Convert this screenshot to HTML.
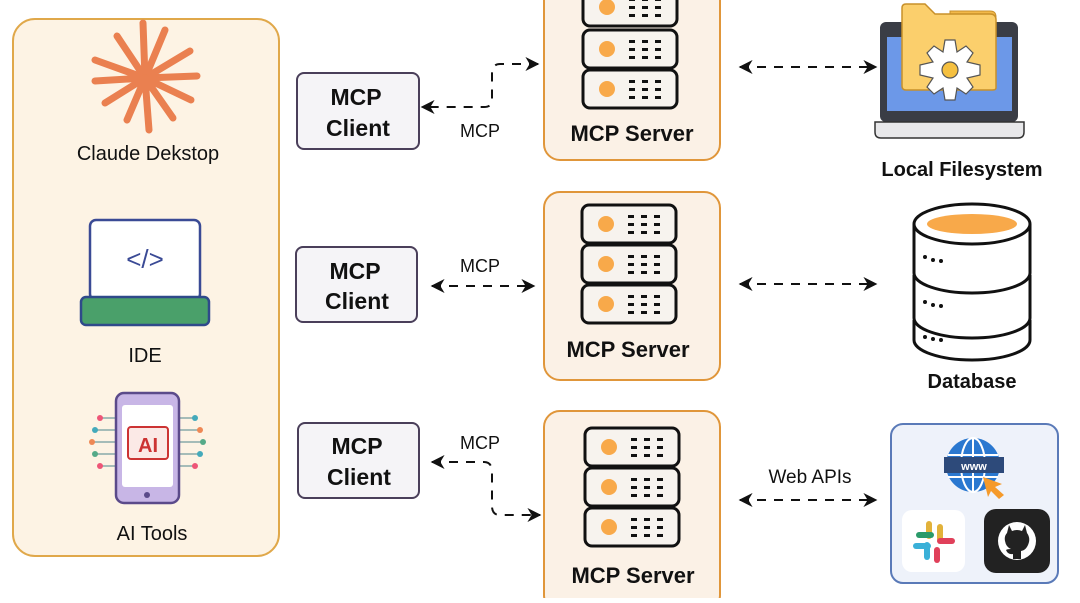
<!DOCTYPE html>
<html><head><meta charset="utf-8"><style>
body{margin:0;width:1080px;height:598px;background:#fff;overflow:hidden;font-family:"Liberation Sans",sans-serif;}
</style></head><body>
<svg width="1080" height="598" viewBox="0 0 1080 598" xmlns="http://www.w3.org/2000/svg" font-family="Liberation Sans, sans-serif">
<defs>
<marker id="ah" viewBox="0 0 10 10" refX="9" refY="5" markerWidth="7" markerHeight="7" orient="auto-start-reverse"><path d="M0,0 L10,5 L0,10 L3,5 z" fill="#111"/></marker>
<g id="unit"><rect x="0" y="0" width="94" height="38" rx="7" fill="#f7f3ee" stroke="#111" stroke-width="3"/><circle cx="24" cy="19" r="8" fill="#f8a94a"/>
<g fill="#111"><rect x="46" y="10" width="6" height="3"/><rect x="59" y="10" width="6" height="3"/><rect x="72" y="10" width="6" height="3"/><rect x="46" y="18" width="6" height="3"/><rect x="59" y="18" width="6" height="3"/><rect x="72" y="18" width="6" height="3"/><rect x="46" y="26" width="6" height="3"/><rect x="59" y="26" width="6" height="3"/><rect x="72" y="26" width="6" height="3"/></g></g>
</defs>
<rect x="13" y="19" width="266" height="537" rx="22" fill="#fdf3e4" stroke="#e0a84a" stroke-width="2"/>
<g stroke="#ea8050" stroke-width="7" stroke-linecap="round" transform="translate(145,78)">
<line x1="0" y1="0" x2="-2" y2="-55"/><line x1="0" y1="0" x2="20" y2="-48"/><line x1="0" y1="0" x2="-28" y2="-42"/><line x1="0" y1="0" x2="45" y2="-27"/><line x1="0" y1="0" x2="-50" y2="-18"/><line x1="0" y1="0" x2="52" y2="-2"/><line x1="0" y1="0" x2="-50" y2="3"/><line x1="0" y1="0" x2="46" y2="22"/><line x1="0" y1="0" x2="-40" y2="25"/><line x1="0" y1="0" x2="28" y2="40"/><line x1="0" y1="0" x2="-18" y2="42"/><line x1="0" y1="0" x2="4" y2="52"/>
</g>
<text x="148" y="160" font-size="20" text-anchor="middle" fill="#111">Claude Dekstop</text>
<rect x="90" y="220" width="110" height="80" rx="6" fill="#fff" stroke="#3a4a95" stroke-width="2.5"/>
<text x="145" y="268" font-size="26" text-anchor="middle" fill="#3a4a95">&lt;/&gt;</text>
<rect x="81" y="297" width="128" height="28" rx="5" fill="#4aa06a" stroke="#2f4a8a" stroke-width="2.5"/>
<text x="145" y="362" font-size="20" text-anchor="middle" fill="#111">IDE</text>
<g stroke-width="1.5" fill="none">
<path d="M116 418 H100 M116 430 H95 M116 442 H92 M116 454 H95 M116 466 H100" stroke="#8aa"/>
<path d="M179 418 H195 M179 430 H200 M179 442 H203 M179 454 H200 M179 466 H195" stroke="#8aa"/>
</g>
<g><circle cx="100" cy="418" r="3" fill="#e57"/><circle cx="95" cy="430" r="3" fill="#4ab"/><circle cx="92" cy="442" r="3" fill="#e85"/><circle cx="95" cy="454" r="3" fill="#5a8"/><circle cx="100" cy="466" r="3" fill="#e57"/>
<circle cx="195" cy="418" r="3" fill="#4ab"/><circle cx="200" cy="430" r="3" fill="#e85"/><circle cx="203" cy="442" r="3" fill="#5a8"/><circle cx="200" cy="454" r="3" fill="#4ab"/><circle cx="195" cy="466" r="3" fill="#e57"/></g>
<rect x="116" y="393" width="63" height="110" rx="8" fill="#c8b6e6" stroke="#5b4a8a" stroke-width="2.5"/>
<rect x="122" y="405" width="51" height="82" rx="3" fill="#fff"/>
<rect x="128" y="427" width="40" height="32" rx="3" fill="#fbe9e6" stroke="#c33" stroke-width="2"/>
<text x="148" y="452" font-size="20" font-weight="bold" text-anchor="middle" fill="#c33">AI</text>
<circle cx="147" cy="495" r="3" fill="#5b4a8a"/>
<text x="152" y="540" font-size="20" text-anchor="middle" fill="#111">AI Tools</text>
<g fill="#f5f4f7" stroke="#4a3f5a" stroke-width="2">
<rect x="297" y="73" width="122" height="76" rx="7"/>
<rect x="296" y="247" width="121" height="75" rx="7"/>
<rect x="298" y="423" width="121" height="75" rx="7"/>
</g>
<g font-size="23" text-anchor="middle" fill="#111" font-weight="bold">
<text x="356" y="105">MCP</text><text x="358" y="136">Client</text>
<text x="355" y="279">MCP</text><text x="357" y="309">Client</text>
<text x="357" y="454">MCP</text><text x="359" y="485">Client</text>
</g>
<g stroke="#111" stroke-width="2" fill="none" stroke-dasharray="9,8">
<path d="M538 64 H500 Q492 64 492 74 V100 Q492 107 484 107 H422" marker-start="url(#ah)" marker-end="url(#ah)"/>
<path d="M432 286 H534" marker-start="url(#ah)" marker-end="url(#ah)"/>
<path d="M432 462 H484 Q492 462 492 472 V506 Q492 515 500 515 H540" marker-start="url(#ah)" marker-end="url(#ah)"/>
</g>
<g font-size="18" fill="#111" text-anchor="middle">
<text x="480" y="137">MCP</text><text x="480" y="272">MCP</text><text x="480" y="449">MCP</text>
</g>
<g fill="#fbf1e6" stroke="#e0963a" stroke-width="2">
<rect x="544" y="-20" width="176" height="180" rx="16"/>
<rect x="544" y="192" width="176" height="188" rx="16"/>
<rect x="544" y="411" width="176" height="200" rx="16"/>
</g>
<use href="#unit" x="583" y="-12"/><use href="#unit" x="583" y="30"/><use href="#unit" x="583" y="70"/>
<use href="#unit" x="582" y="205"/><use href="#unit" x="582" y="245"/><use href="#unit" x="582" y="285"/>
<use href="#unit" x="585" y="428"/><use href="#unit" x="585" y="468"/><use href="#unit" x="585" y="508"/>
<g font-size="22" text-anchor="middle" fill="#111" font-weight="bold">
<text x="632" y="141">MCP Server</text><text x="628" y="357">MCP Server</text><text x="633" y="583">MCP Server</text>
</g>
<g stroke="#111" stroke-width="2" fill="none" stroke-dasharray="9,8">
<path d="M740 67 H876" marker-start="url(#ah)" marker-end="url(#ah)"/>
<path d="M740 284 H876" marker-start="url(#ah)" marker-end="url(#ah)"/>
<path d="M740 500 H876" marker-start="url(#ah)" marker-end="url(#ah)"/>
</g>
<text x="810" y="483" font-size="19" text-anchor="middle" fill="#111">Web APIs</text>
<rect x="880" y="22" width="138" height="100" rx="6" fill="#3a3d45"/>
<rect x="887" y="37" width="125" height="74" fill="#6c98e8"/>
<path d="M875 122 H1024 V132 Q1024 138 1018 138 H881 Q875 138 875 132 Z" fill="#e8e8ea" stroke="#333" stroke-width="1.5"/>
<path d="M950 11 H990 Q996 11 996 17 V85 H950 Z" fill="#f2b94a" stroke="#c8902a" stroke-width="1"/>
<path d="M902 8 Q902 4 906 4 H925 L935 14 H990 Q996 14 996 20 V88 Q996 90 992 90 H906 Q902 90 902 86 Z" fill="#fbcf6c" stroke="#c8902a" stroke-width="1.5"/>
<g transform="translate(950,70)" fill="#fff" stroke="#555" stroke-width="1.2">
<path d="M-5,-30 L5,-30 L7,-18 L16,-24 L23,-17 L17,-8 L30,-5 L30,5 L17,8 L23,17 L16,24 L7,18 L5,30 L-5,30 L-7,18 L-16,24 L-23,17 L-17,8 L-30,5 L-30,-5 L-17,-8 L-23,-17 L-16,-24 L-7,-18 Z"/>
<circle r="8" fill="#f5c040"/>
</g>
<text x="962" y="176" font-size="20" text-anchor="middle" fill="#111" font-weight="bold">Local Filesystem</text>
<g stroke="#111" stroke-width="3" fill="#fff">
<path d="M914 320 V340 A58 20 0 0 0 1030 340 V320"/>
<path d="M914 275 V318 A58 20 0 0 0 1030 318 V275"/>
<path d="M914 224 V273 A58 20 0 0 0 1030 273 V224"/>
<ellipse cx="972" cy="224" rx="58" ry="20"/>
</g>
<ellipse cx="972" cy="224" rx="45" ry="10" fill="#f8a94a"/>
<g fill="#111"><circle cx="925" cy="257" r="2"/><circle cx="933" cy="260" r="2"/><circle cx="941" cy="261" r="2"/>
<circle cx="925" cy="302" r="2"/><circle cx="933" cy="305" r="2"/><circle cx="941" cy="306" r="2"/>
<circle cx="925" cy="337" r="2"/><circle cx="933" cy="339" r="2"/><circle cx="941" cy="340" r="2"/></g>
<text x="972" y="388" font-size="20" text-anchor="middle" fill="#111" font-weight="bold">Database</text>
<rect x="891" y="424" width="167" height="159" rx="12" fill="#eef2fa" stroke="#5a7ab8" stroke-width="2"/>
<circle cx="973" cy="465" r="27" fill="#2a78d0"/>
<g stroke="#fff" stroke-width="2" fill="none"><ellipse cx="973" cy="465" rx="12" ry="27"/><line x1="973" y1="438" x2="973" y2="492"/><line x1="948" y1="455" x2="998" y2="455"/><line x1="948" y1="477" x2="998" y2="477"/></g>
<rect x="944" y="457" width="60" height="16" fill="#2d4a7a"/>
<text x="974" y="470" font-size="11" font-weight="bold" text-anchor="middle" fill="#fff">www</text>
<path d="M983 477 L1002 484 L995 487 L1004 495 L999 499 L991 491 L988 497 Z" fill="#f59a2a"/>
<rect x="902" y="510" width="63" height="62" rx="10" fill="#fff"/>
<g stroke-linecap="round" stroke-width="6">
<line x1="929" y1="524" x2="929" y2="536" stroke="#e2b23a"/><line x1="919" y1="535" x2="931" y2="535" stroke="#2a9a6a"/>
<line x1="940" y1="527" x2="940" y2="539" stroke="#e2b23a"/><line x1="940" y1="541" x2="952" y2="541" stroke="#e0405a"/>
<line x1="916" y1="546" x2="928" y2="546" stroke="#3ab0d8"/><line x1="927" y1="545" x2="927" y2="557" stroke="#3ab0d8"/>
<line x1="937" y1="550" x2="937" y2="560" stroke="#e0405a"/></g>
<rect x="984" y="509" width="66" height="64" rx="12" fill="#222"/>
<circle cx="1017" cy="541" r="19" fill="#fff"/>
<path d="M1009 525 L1012 531 Q1017 529 1022 531 L1025 525 L1027 533 Q1030 537 1029 542 Q1027 550 1021 551 V559 H1013 V554 Q1008 555 1006 550 Q1007 549 1011 549 Q1006 547 1005 541 Q1004 536 1007 533 Z" fill="#222"/>
</svg>
</body></html>
